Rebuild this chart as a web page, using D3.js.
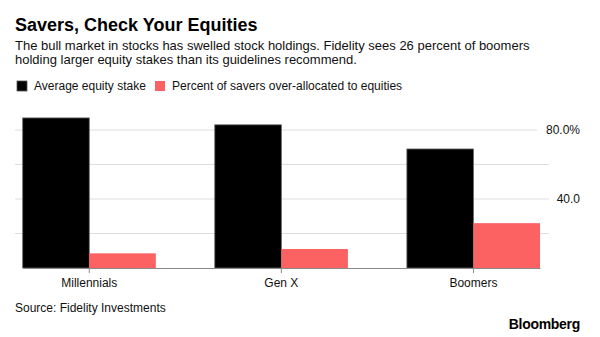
<!DOCTYPE html>
<html>
<head>
<meta charset="utf-8">
<script src="https://cdn.jsdelivr.net/npm/d3@7"></script>
<style>
  html, body { margin: 0; padding: 0; background: #fff; }
  svg { display: block; font-family: "Liberation Sans", Arial, sans-serif; }
</style>
</head>
<body>
<svg id="chart" width="600" height="337"></svg>
<script>
// generations on the x axis
const categories = ["Millennials", "Gen X", "Boomers"];
// series values, in percent
const avgEquityStake = [87, 83, 69];
const overAllocated = [8.5, 11, 26];
const seriesNames = ["Average equity stake", "Percent of savers over-allocated to equities"];
const seriesColors = ["#000000", "#fd6262"];
// y gridlines and which of them get a label
const gridValues = [20, 40, 60, 80];
const tickLabels = { 40: "40.0", 80: "80.0%" };

const svg = d3.select("#chart");

// header
svg.append("text")
  .attr("x", 15).attr("y", 31)
  .attr("font-size", 18).attr("font-weight", "bold").attr("fill", "#000")
  .text("Savers, Check Your Equities");

const sub = svg.append("text")
  .attr("x", 15).attr("y", 50)
  .attr("font-size", 13).attr("fill", "#111");
sub.append("tspan").attr("x", 15).attr("y", 50)
  .text("The bull market in stocks has swelled stock holdings. Fidelity sees 26 percent of boomers");
sub.append("tspan").attr("x", 15).attr("y", 64)
  .text("holding larger equity stakes than its guidelines recommend.");

// legend
const legendX = [17, 155];
seriesNames.forEach((name, i) => {
  const g = svg.append("g").attr("transform", `translate(${legendX[i]},81)`);
  g.append("rect")
    .attr("width", 10).attr("height", 10)
    .attr("fill", seriesColors[i])
    .attr("stroke", i === 0 ? "#555" : "none")
    .attr("stroke-width", 0.8);
  g.append("text")
    .attr("x", 17).attr("y", 9)
    .attr("font-size", 12).attr("fill", "#111")
    .text(name);
});

// scales
const y = d3.scaleLinear().domain([0, 80]).range([268, 130]);

const x0 = d3.scaleBand()
  .domain(categories)
  .range([22.7, 540])
  .paddingInner(0.307)
  .paddingOuter(0);

const x1 = d3.scaleBand()
  .domain(d3.range(seriesNames.length))
  .range([0, x0.bandwidth()])
  .padding(0);

// gridlines, shortened where a label sits
const grid = svg.append("g");
gridValues.forEach(v => {
  const label = tickLabels[v];
  let x2 = 549;
  if (label && label.length > 4) x2 = 537;
  grid.append("line")
    .attr("x1", 15).attr("x2", x2)
    .attr("y1", y(v)).attr("y2", y(v))
    .attr("stroke", "#dedede").attr("stroke-width", 1);
  if (label) {
    grid.append("text")
      .attr("x", 580).attr("y", y(v) + 4)
      .attr("text-anchor", "end")
      .attr("font-size", 12).attr("fill", "#111")
      .text(label);
  }
});

// bars
const rows = categories.map((c, i) => ({ cat: c, values: [avgEquityStake[i], overAllocated[i]] }));

const groups = svg.append("g")
  .selectAll("g")
  .data(rows)
  .join("g")
  .attr("transform", d => `translate(${x0(d.cat)},0)`);

groups.selectAll("rect")
  .data(d => d.values.map((v, k) => ({ k, v })))
  .join("rect")
  .attr("x", d => x1(d.k))
  .attr("y", d => y(d.v))
  .attr("width", x1.bandwidth())
  .attr("height", d => y(0) - y(d.v))
  .attr("fill", d => seriesColors[d.k])
  .attr("stroke", d => d.k === 0 ? "#666" : "none")
  .attr("stroke-width", 0.8);

// x axis
const xAxis = svg.append("g")
  .attr("transform", `translate(0,${y(0)})`)
  .call(d3.axisBottom(x0).tickSize(5).tickSizeOuter(0));
xAxis.select(".domain").attr("stroke", "#8a8a8a");
xAxis.selectAll(".tick line").attr("stroke", "#8a8a8a");
xAxis.selectAll(".tick text")
  .attr("y", 15)
  .attr("dy", "0.32em")
  .attr("font-family", "Liberation Sans, Arial, sans-serif")
  .attr("font-size", 12).attr("fill", "#111");

// footer
svg.append("text")
  .attr("x", 15).attr("y", 312)
  .attr("font-size", 12).attr("fill", "#111")
  .text("Source: Fidelity Investments");

svg.append("text")
  .attr("x", 580).attr("y", 329)
  .attr("text-anchor", "end")
  .attr("font-size", 14).attr("font-weight", "bold").attr("fill", "#000")
  .attr("letter-spacing", -0.3)
  .text("Bloomberg");
</script>
</body>
</html>
